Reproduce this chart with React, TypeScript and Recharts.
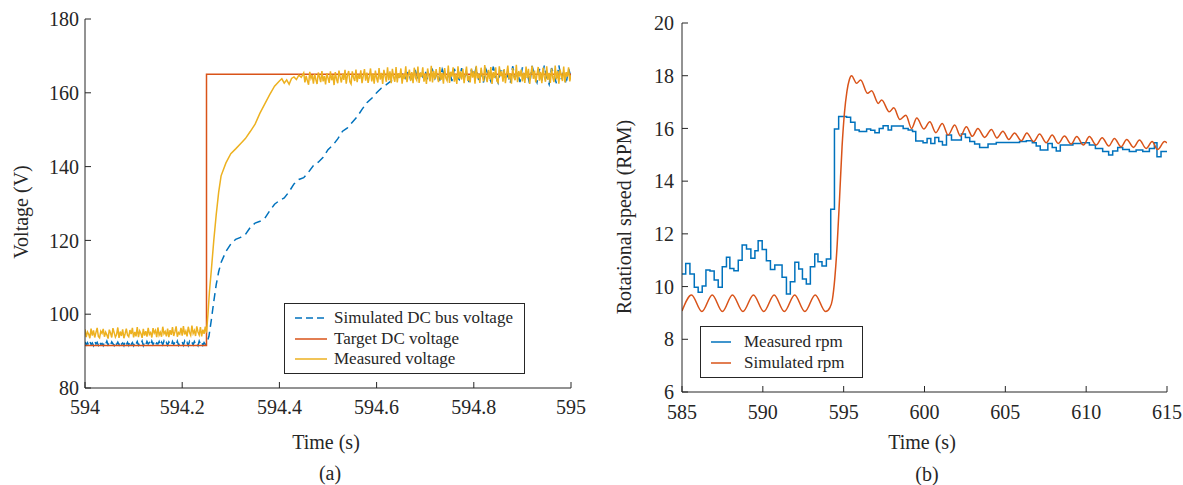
import { LineChart, Line, XAxis, YAxis } from 'recharts';

const FONT = '"Liberation Serif", "Times New Roman", Times, serif';
const INK = '#262626';
const BLUE = '#0072BD';
const ORANGE = '#D95319';
const YELLOW = '#EDB120';

// (a) DC bus voltage, 594 - 595 s
const voltTicksX = [594, 594.2, 594.4, 594.6, 594.8, 595];
const voltTicksY = [80, 100, 120, 140, 160, 180];

// simulated DC bus voltage: flat part sampled every 2.5 ms from 594.000
const PRE_DT = 0.0025;
const simPre = [
  92.5, 91.7, 92.3, 91.6, 92.6, 91.8, 92.2, 91.5, 92.7, 91.9,
  92.4, 91.6, 92.6, 91.8, 92.1, 91.5, 92.5, 91.9, 92.7, 91.7,
  92.3, 91.6, 92.5, 92.0, 91.5, 92.6, 91.8, 92.4, 91.7, 92.7,
  91.9, 92.2, 91.5, 92.6, 91.7, 92.4, 91.6, 92.7, 91.8, 92.3,
  91.5, 92.5, 91.9, 92.6, 91.6, 92.2, 91.8, 92.7, 91.5, 92.4,
  91.7, 92.6, 91.9, 92.3, 91.5, 92.7, 91.8, 92.5, 91.6, 92.2,
  91.9, 92.6, 91.5, 92.4, 91.7, 92.7, 91.8, 92.3, 91.6, 92.5,
  92.0, 91.5, 92.6, 91.8, 92.4, 91.7, 92.7, 91.6, 92.2, 91.9,
  92.5, 91.6, 92.7, 91.8, 92.3, 91.5, 92.6, 91.9, 92.4, 91.7,
  92.6, 91.8, 92.2, 91.5, 92.7, 91.9, 92.5, 91.6, 92.3, 91.8,
  92.0,
];
const simRise: [number, number][] = [
  [594.255, 94], [594.26, 98.5], [594.265, 103.5], [594.27, 108], [594.275, 111.5],
  [594.28, 114], [594.29, 117], [594.3, 119], [594.31, 120.3], [594.32, 120.8],
  [594.33, 121.6], [594.34, 123.5], [594.35, 124.7], [594.36, 125.2], [594.37, 126],
  [594.38, 128], [594.39, 129.8], [594.4, 130.8], [594.41, 131.5], [594.42, 133.2],
  [594.43, 135.3], [594.44, 136.5], [594.45, 137], [594.46, 138.5], [594.47, 140.3],
  [594.48, 141.2], [594.49, 142.5], [594.5, 144.6], [594.51, 145.8], [594.52, 147.5],
  [594.53, 149.6], [594.54, 150.5], [594.55, 152], [594.56, 153.5], [594.57, 155.5],
  [594.58, 157.3], [594.59, 158.5], [594.6, 160], [594.61, 161.3], [594.62, 162.2],
  [594.63, 163.2], [594.64, 164],
];
// from 594.650 to 595.000, every 5 ms
const POST_DT = 0.005;
const simPost = [
  164.5, 165.4, 164.0, 165.7, 163.6, 164.9, 165.9, 163.8, 165.2, 164.3,
  166.0, 163.5, 164.8, 166.2, 163.9, 165.5, 163.3, 166.4, 164.6, 163.7,
  165.8, 163.2, 166.5, 164.4, 163.6, 166.7, 164.0, 165.3, 162.9, 166.3,
  164.2, 167.0, 163.4, 165.6, 162.8, 166.4, 164.7, 163.1, 167.1, 164.5,
  162.7, 165.9, 166.8, 163.5, 164.9, 162.5, 167.2, 164.1, 165.5, 162.9,
  166.9, 163.8, 165.2, 162.4, 167.3, 164.6, 162.8, 166.5, 163.3, 167.4,
  164.0, 162.3, 166.7, 164.8, 162.6, 167.5, 163.7, 165.9, 162.4, 166.6,
  164.2,
];

const targetVolt: [number, number][] = [
  [594, 91.5], [594.25, 91.5], [594.25, 165], [595, 165],
];

// measured voltage, sampled every 2.5 ms from 594.000
const MEAS_DT = 0.0025;
const measPre = [
  95.9, 93.8, 95.2, 94.6, 93.5, 96.1, 94.2, 95.6, 93.7, 95.0,
  96.3, 94.0, 93.6, 95.4, 94.8, 96.0, 93.9, 95.1, 94.4, 93.4,
  95.8, 94.9, 93.7, 96.2, 95.0, 93.8, 94.5, 96.4, 93.6, 95.3,
  94.1, 95.9, 93.5, 94.7, 96.1, 94.3, 93.9, 95.7, 94.6, 96.3,
  93.7, 95.2, 94.0, 96.5, 93.8, 95.5, 94.8, 93.6, 96.0, 94.2,
  95.4, 93.9, 96.3, 94.5, 95.0, 93.7, 96.2, 94.9, 95.6, 93.8,
  96.4, 94.3, 95.1, 93.9, 96.6, 94.7, 95.3, 94.0, 96.1, 93.8,
  95.7, 94.4, 96.5, 94.1, 95.2, 96.7, 93.9, 95.0, 94.6, 96.3,
  94.2, 96.8, 94.5, 95.4, 94.0, 96.6, 95.1, 94.3, 96.9, 94.8,
  95.6, 94.1, 96.7, 95.2, 94.4, 96.5, 94.0, 95.8, 94.7, 96.6,
  95.0,
];
const measRise: [number, number][] = [
  [594.253, 100], [594.256, 106], [594.26, 112], [594.265, 120], [594.27, 127],
  [594.275, 133], [594.28, 137.5], [594.29, 141], [594.3, 143.5], [594.31, 144.8],
  [594.32, 146.2], [594.33, 147.6], [594.34, 149.5], [594.35, 151.5], [594.36, 154.5],
  [594.37, 157], [594.38, 159.5], [594.39, 161.8], [594.4, 163.2], [594.405, 163.8],
  [594.41, 162.6], [594.415, 163.5], [594.42, 162.3], [594.425, 163.9], [594.43, 164.3],
  [594.435, 163.6], [594.44, 164.8], [594.445, 164.2],
];
// from 594.450 to 595.000
const measPost = [
  165.4, 162.8, 164.6, 163.3, 162.2, 165.7, 163.9, 164.8, 162.5, 165.1,
  163.6, 162.4, 165.5, 164.2, 162.9, 165.9, 163.1, 164.5, 162.3, 165.3,
  164.0, 162.7, 165.8, 163.4, 164.9, 162.1, 165.6, 163.7, 162.6, 166.0,
  164.3, 162.8, 165.2, 163.5, 166.2, 162.5, 164.7, 165.9, 163.0, 162.4,
  165.8, 164.1, 163.2, 166.3, 162.9, 165.0, 163.8, 166.1, 162.6, 164.6,
  166.4, 163.3, 165.5, 162.7, 164.4, 166.6, 163.1, 165.2, 162.5, 166.0,
  164.0, 162.8, 166.7, 163.6, 165.4, 162.4, 166.2, 164.5, 163.0, 166.9,
  163.4, 165.8, 162.6, 166.5, 164.2, 163.0, 167.0, 162.8, 165.3, 164.0,
  166.6, 162.5, 165.1, 163.7, 167.2, 162.9, 164.8, 166.3, 163.2, 165.6,
  162.6, 166.8, 164.1, 163.4, 167.1, 162.7, 165.5, 164.3, 166.9, 163.0,
  165.2, 162.4, 166.6, 164.6, 163.1, 167.3, 162.8, 165.9, 163.7, 166.4,
  164.2, 162.9, 167.0, 163.5, 165.4, 162.5, 166.7, 164.0, 163.3, 167.4,
  162.7, 165.7, 164.4, 166.9, 163.0, 165.1, 162.4, 167.2, 163.8, 165.8,
  163.6, 166.5, 162.6, 165.0, 167.1, 163.2, 164.7, 162.8, 166.6, 164.1,
  165.9, 162.5, 167.3, 163.9, 165.2, 162.7, 166.8, 164.6, 163.1, 167.5,
  164.3, 162.9, 166.2, 163.6, 167.0, 162.4, 165.6, 164.0, 166.9, 163.2,
  162.8, 167.2, 164.5, 165.8, 163.0, 166.4, 162.6, 165.1, 167.4, 163.7,
  165.3, 162.5, 166.7, 164.2, 163.4, 167.6, 162.9, 165.9, 164.4, 166.3,
  163.1, 165.5, 162.7, 167.1, 164.0, 166.5, 162.4, 165.2, 167.3, 163.8,
  166.0, 162.8, 164.9, 167.0, 163.3, 165.7, 162.6, 166.8, 164.3, 163.0,
  167.2, 163.5, 165.4, 162.7, 166.6, 164.1, 162.9, 167.4, 163.6, 165.9,
  162.5, 166.3, 164.7, 163.2, 167.1, 162.8, 165.6, 164.4, 166.9, 163.1,
  164.8,
];

// (b) rotational speed, 585 - 615 s
const rpmTicksX = [585, 590, 595, 600, 605, 610, 615];
const rpmTicksY = [6, 8, 10, 12, 14, 16, 18, 20];

// measured rpm (steps)
const measuredRpm: [number, number][] = [
  [585, 10.48], [585.23, 10.88], [585.49, 10.48], [585.76, 9.97], [586.0, 9.78],
  [586.25, 10.02], [586.48, 10.63], [586.73, 10.59], [586.99, 10.25], [587.24, 9.97],
  [587.49, 10.75], [587.75, 11.11], [587.96, 10.69], [588.21, 10.6], [588.48, 11.0],
  [588.72, 11.58], [588.99, 11.43], [589.26, 11.07], [589.51, 11.36], [589.71, 11.74],
  [589.96, 11.41], [590.22, 10.98], [590.47, 10.65], [590.74, 10.82], [591.19, 10.35],
  [591.46, 9.72], [591.7, 10.18], [591.98, 10.92], [592.22, 10.67], [592.45, 10.29],
  [592.69, 10.1], [592.94, 10.75], [593.21, 11.24], [593.41, 10.94], [593.66, 10.78],
  [593.93, 11.05], [594.2, 12.93], [594.43, 15.98], [594.69, 16.45], [595.18, 16.42],
  [595.43, 16.23], [595.7, 15.94], [595.96, 15.88], [596.42, 15.98], [596.67, 15.93],
  [596.93, 15.84], [597.2, 16.0], [597.44, 16.1], [597.75, 15.94], [597.96, 16.09],
  [598.68, 16.0], [598.99, 15.94], [599.26, 15.88], [599.46, 15.52], [599.91, 15.46],
  [600.16, 15.62], [600.39, 15.43], [600.64, 15.66], [600.88, 15.5], [601.11, 15.37],
  [601.36, 15.75], [601.67, 15.56], [602.28, 15.79], [602.53, 15.66], [602.8, 15.5],
  [603.1, 15.41], [603.41, 15.28], [603.93, 15.41], [604.44, 15.47], [605.88, 15.5],
  [606.3, 15.53], [606.67, 15.46], [606.91, 15.33], [607.16, 15.18], [607.63, 15.43],
  [607.9, 15.28], [608.15, 15.14], [608.4, 15.37], [609.18, 15.43], [609.69, 15.46],
  [610.2, 15.37], [610.57, 15.24], [611.02, 15.12], [611.39, 14.99], [611.64, 15.14],
  [611.95, 15.28], [612.26, 15.2], [612.67, 15.12], [613.09, 15.18], [613.5, 15.12],
  [613.91, 15.24], [614.22, 15.46], [614.38, 14.93], [614.63, 15.12], [615, 15.12],
];

// simulated rpm, peaks and troughs (smoothed by the curve)
const simulatedRpm: [number, number][] = [
  [585, 9.07], [585.59, 9.68], [586.23, 9.05], [586.87, 9.68], [587.5, 9.05],
  [588.12, 9.68], [588.77, 9.05], [589.42, 9.68], [590.06, 9.05], [590.7, 9.68],
  [591.33, 9.05], [591.97, 9.68], [592.6, 9.05], [593.24, 9.68], [593.88, 9.05],
  [594.15, 9.2], [594.3, 9.5], [594.45, 10.3], [594.6, 11.6], [594.75, 13.4],
  [594.9, 15.3], [595.05, 16.6], [595.2, 17.4], [595.35, 17.85], [595.49, 18.0],
  [595.8, 17.71], [596.05, 17.84], [596.48, 17.33], [596.73, 17.43], [597.14, 16.95],
  [597.35, 17.08], [597.82, 16.63], [598.1, 16.78], [598.48, 16.34], [598.85, 16.5],
  [599.2, 16.0], [599.52, 16.4], [599.96, 15.98], [600.33, 16.25], [600.7, 15.84],
  [601.1, 16.19], [601.46, 15.75], [601.87, 16.13], [602.22, 15.71], [602.59, 16.06],
  [602.96, 15.7], [603.3, 16.0], [603.72, 15.66], [604.14, 15.96], [604.48, 15.64],
  [604.85, 15.89], [605.22, 15.58], [605.57, 15.83], [605.99, 15.53], [606.33, 15.83],
  [606.75, 15.5], [607.12, 15.79], [607.53, 15.46], [607.9, 15.75], [608.27, 15.43],
  [608.66, 15.71], [609.07, 15.41], [609.42, 15.69], [609.83, 15.37], [610.2, 15.69],
  [610.62, 15.37], [610.99, 15.65], [611.4, 15.33], [611.75, 15.62], [612.16, 15.3],
  [612.51, 15.58], [612.93, 15.28], [613.3, 15.56], [613.71, 15.24], [614.08, 15.5],
  [614.42, 15.2], [614.85, 15.5], [615, 15.45],
];

const sampled = (t0: number, dt: number, values: number[]) =>
  values.map((v, i) => ({ t: +(t0 + i * dt).toFixed(4), v }));
const pairs = (p: [number, number][]) => p.map(([t, v]) => ({ t, v }));

const simVoltData = [
  ...sampled(594, PRE_DT, simPre), ...pairs(simRise), ...sampled(594.65, POST_DT, simPost),
];
const measVoltData = [
  ...sampled(594, MEAS_DT, measPre), ...pairs(measRise), ...sampled(594.45, MEAS_DT, measPost),
];
const targetVoltData = pairs(targetVolt);
const measuredRpmData = pairs(measuredRpm);
const simulatedRpmData = pairs(simulatedRpm);

const tickFont = { fill: INK, fontSize: 20, fontFamily: FONT };

interface LegendItem {
  label: string;
  color: string;
  dashed?: boolean;
}

function LegendBox({ left, top, width, height, items, sampleW, gap, rowH, padL }: {
  left: number; top: number; width: number; height: number; items: LegendItem[];
  sampleW: number; gap: number; rowH: number; padL: number;
}) {
  return (
    <div
      style={{
        position: 'absolute', left, top, width, height, boxSizing: 'border-box',
        border: `1px solid ${INK}`, background: '#fff', fontFamily: FONT, fontSize: 17,
        color: INK, display: 'flex', flexDirection: 'column', justifyContent: 'center',
      }}
    >
      {items.map((it) => (
        <div key={it.label} style={{ display: 'flex', alignItems: 'center', height: rowH, paddingLeft: padL }}>
          <svg width={sampleW} height={6} style={{ marginRight: gap }}>
            <line x1={0} y1={3} x2={sampleW} y2={3} stroke={it.color} strokeWidth={1.5}
              strokeDasharray={it.dashed ? '7 4' : undefined} />
          </svg>
          <span style={{ whiteSpace: 'nowrap' }}>{it.label}</span>
        </div>
      ))}
    </div>
  );
}

const caption: React.CSSProperties = {
  position: 'absolute', fontFamily: FONT, fontSize: 20, color: INK,
  transform: 'translate(-50%, -50%)', whiteSpace: 'nowrap',
};

export default function App() {
  return (
    <div style={{ position: 'absolute', left: 0, top: 0, width: 1183, height: 485, background: '#fff', overflow: 'hidden' }}>
      {/* (a) voltage */}
      <div style={{ position: 'absolute', left: 0, top: 0 }}>
        <LineChart width={590} height={485} margin={{ top: 19, right: 19, bottom: 0, left: 0 }}>
          <XAxis xAxisId="b" type="number" dataKey="t" domain={[594, 595]} ticks={voltTicksX}
            height={97} stroke={INK} tickSize={-6} tickMargin={18} tick={tickFont} allowDataOverflow />
          <XAxis xAxisId="t" orientation="top" type="number" dataKey="t" domain={[594, 595]}
            ticks={voltTicksX} height={0} stroke={INK} tickSize={-6} tick={false} allowDataOverflow />
          <YAxis yAxisId="l" type="number" domain={[80, 180]} ticks={voltTicksY} width={85}
            stroke={INK} tickSize={-6} tickMargin={12} tick={tickFont} allowDataOverflow />
          <YAxis yAxisId="r" orientation="right" type="number" domain={[80, 180]} ticks={voltTicksY}
            width={0} stroke={INK} tickSize={-6} tick={false} allowDataOverflow />
          <Line xAxisId="b" yAxisId="l" data={simVoltData} dataKey="v" type="linear" stroke={BLUE}
            strokeWidth={1.5} strokeDasharray="8 5" dot={false} isAnimationActive={false} />
          <Line xAxisId="b" yAxisId="l" data={targetVoltData} dataKey="v" type="linear" stroke={ORANGE}
            strokeWidth={1.5} dot={false} isAnimationActive={false} />
          <Line xAxisId="b" yAxisId="l" data={measVoltData} dataKey="v" type="linear" stroke={YELLOW}
            strokeWidth={1.5} dot={false} isAnimationActive={false} />
        </LineChart>
      </div>
      <LegendBox left={284} top={303} width={241} height={71} sampleW={32} gap={7} rowH={20.5} padL={10}
        items={[
          { label: 'Simulated DC bus voltage', color: BLUE, dashed: true },
          { label: 'Target DC voltage', color: ORANGE },
          { label: 'Measured voltage', color: YELLOW },
        ]} />
      <div style={{ ...caption, left: 21, top: 212, transform: 'translate(-50%, -50%) rotate(-90deg)' }}>Voltage (V)</div>
      <div style={{ ...caption, left: 326, top: 442 }}>Time (s)</div>
      <div style={{ ...caption, left: 330, top: 473 }}>(a)</div>

      {/* (b) rotational speed */}
      <div style={{ position: 'absolute', left: 590, top: 0 }}>
        <LineChart width={593} height={485} margin={{ top: 23, right: 16, bottom: 0, left: 0 }}>
          <XAxis xAxisId="b" type="number" dataKey="t" domain={[585, 615]} ticks={rpmTicksX}
            height={93} stroke={INK} tickSize={-6} tickMargin={19} tick={tickFont} allowDataOverflow />
          <XAxis xAxisId="t" orientation="top" type="number" dataKey="t" domain={[585, 615]}
            ticks={rpmTicksX} height={0} stroke={INK} tickSize={-6} tick={false} allowDataOverflow />
          <YAxis yAxisId="l" type="number" domain={[6, 20]} ticks={rpmTicksY} width={92}
            stroke={INK} tickSize={-6} tickMargin={14} tick={tickFont} allowDataOverflow />
          <YAxis yAxisId="r" orientation="right" type="number" domain={[6, 20]} ticks={rpmTicksY}
            width={0} stroke={INK} tickSize={-6} tick={false} allowDataOverflow />
          <Line xAxisId="b" yAxisId="l" data={measuredRpmData} dataKey="v" type="stepAfter" stroke={BLUE}
            strokeWidth={1.5} dot={false} isAnimationActive={false} />
          <Line xAxisId="b" yAxisId="l" data={simulatedRpmData} dataKey="v" type="monotone" stroke={ORANGE}
            strokeWidth={1.5} dot={false} isAnimationActive={false} />
        </LineChart>
      </div>
      <LegendBox left={700} top={326} width={163} height={52} sampleW={20} gap={13} rowH={21} padL={10}
        items={[
          { label: 'Measured rpm', color: BLUE },
          { label: 'Simulated rpm', color: ORANGE },
        ]} />
      <div style={{ ...caption, left: 624, top: 217, transform: 'translate(-50%, -50%) rotate(-90deg)' }}>Rotational speed (RPM)</div>
      <div style={{ ...caption, left: 922, top: 442 }}>Time (s)</div>
      <div style={{ ...caption, left: 927, top: 474 }}>(b)</div>
    </div>
  );
}
